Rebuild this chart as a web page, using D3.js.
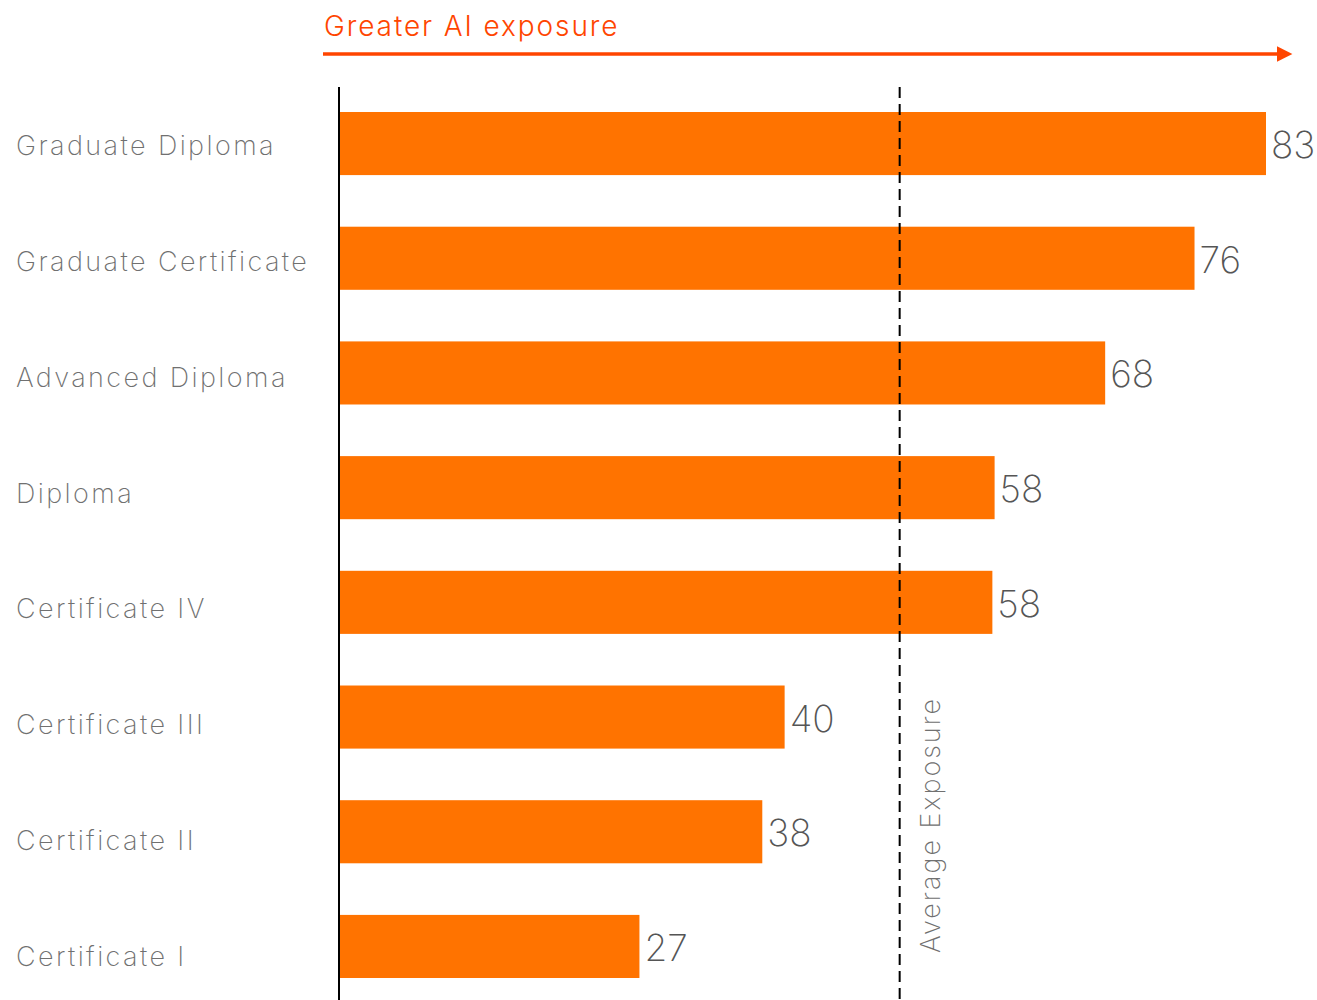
<!DOCTYPE html>
<html>
<head>
<meta charset="utf-8">
<script src="https://cdn.jsdelivr.net/npm/d3@7"></script>
<style>
  html, body { margin: 0; padding: 0; background: #fff; }
  svg { display: block; }
  text { font-family: "Inter", "Lato", sans-serif; }
</style>
</head>
<body>
<svg id="chart" width="1317" height="1000"></svg>
<script>
const categories = ["Graduate Diploma", "Graduate Certificate", "Advanced Diploma", "Diploma",
  "Certificate IV", "Certificate III", "Certificate II", "Certificate I"];
const values = [83.0, 76.6, 68.6, 58.7, 58.5, 39.9, 37.9, 26.9];
const valueLabels = ["83", "76", "68", "58", "58", "40", "38", "27"];
const averageValue = 50.2;
const averageLabel = "Average Exposure";
const arrowLabel = "Greater AI exposure";

const svg = d3.select("#chart");
const x0 = 339;
const x = d3.scaleLinear().domain([0, 83]).range([x0, 1266]);
const y = d3.scaleBand().domain(categories).range([86.2, 1003.8]).paddingInner(0.45).paddingOuter(0.225);
const yLab = d3.scaleBand().domain(categories).range([88, 1014]);

const barColor = "#ff7300";
const accent = "#ff4500";

// arrow
const defs = svg.append("defs");
defs.append("marker").attr("id", "arrow").attr("viewBox", "0 0 10 10")
  .attr("refX", 0).attr("refY", 5).attr("markerWidth", 5).attr("markerHeight", 4.4)
  .attr("markerUnits", "strokeWidth").attr("orient", "auto")
  .append("path").attr("d", "M0,0 L10,5 L0,10 Z").attr("fill", accent);

svg.append("line").attr("x1", 323).attr("x2", 1277).attr("y1", 54).attr("y2", 54)
  .attr("stroke", accent).attr("stroke-width", 3.5).attr("marker-end", "url(#arrow)");
svg.append("text").attr("x", 324).attr("y", 36).attr("fill", accent)
  .attr("font-size", 28).attr("font-weight", 300).attr("letter-spacing", 1.9).text(arrowLabel);

// bars
svg.append("g").selectAll("rect").data(categories).join("rect")
  .attr("x", x(0)).attr("y", d => y(d)).attr("height", y.bandwidth())
  .attr("width", (d, i) => x(values[i]) - x(0)).attr("fill", barColor);

// value labels
svg.append("g").selectAll("text").data(categories).join("text")
  .attr("x", (d, i) => x(values[i]) + 5).attr("y", d => y(d) + y.bandwidth() / 2 + 1)
  .attr("dominant-baseline", "central").attr("font-size", 37).attr("font-weight", 200)
  .attr("fill", "#555").text((d, i) => valueLabels[i]);

// category labels
svg.append("g").selectAll("text").data(categories).join("text")
  .attr("x", 16).attr("y", d => yLab(d) + yLab.bandwidth() / 2)
  .attr("dominant-baseline", "central").attr("font-size", 27).attr("font-weight", 200)
  .attr("letter-spacing", 2.4).attr("fill", "#707070").text(d => d);

// axis line
svg.append("line").attr("x1", x0).attr("x2", x0).attr("y1", 87).attr("y2", 1000)
  .attr("stroke", "#000").attr("stroke-width", 2);

// average line
const ax = x(averageValue);
svg.append("line").attr("x1", ax).attr("x2", ax).attr("y1", 87).attr("y2", 1000)
  .attr("stroke", "#000").attr("stroke-width", 2).attr("stroke-dasharray", "11,6");
svg.append("text").attr("transform", `translate(${ax + 40},953) rotate(-90)`)
  .attr("font-size", 27).attr("font-weight", 200).attr("letter-spacing", 2)
  .attr("fill", "#707070").text(averageLabel);
</script>
</body>
</html>
